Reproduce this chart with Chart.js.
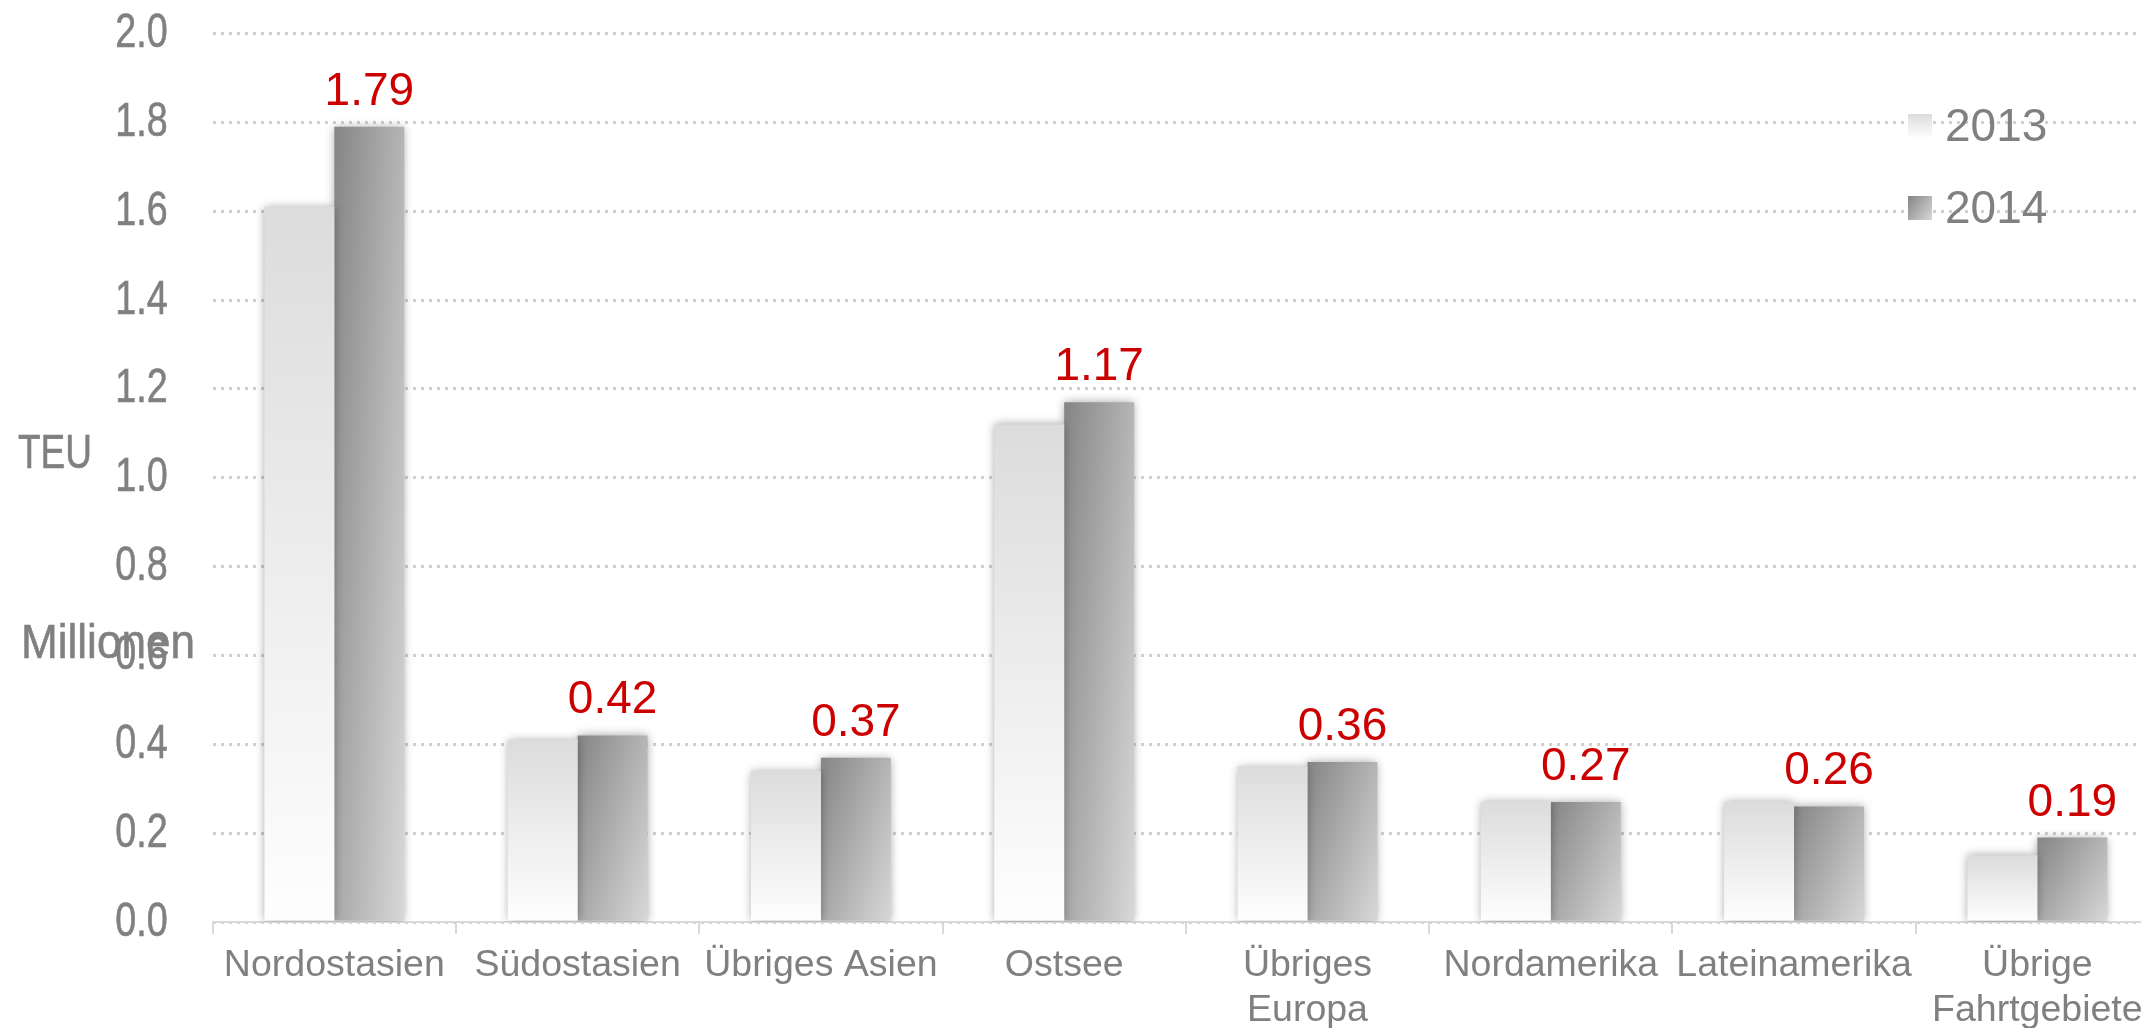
<!DOCTYPE html>
<html>
<head>
<meta charset="utf-8">
<script src="https://cdn.jsdelivr.net/npm/chart.js@4.4.1/dist/chart.umd.min.js"></script>
<style>
  html, body { margin: 0; padding: 0; background: #fff; overflow: hidden; }
  #wrap { width: 2170px; height: 1028px; position: relative; }
</style>
</head>
<body>
<div id="wrap"><canvas id="chart"></canvas></div>
<script>
const categories = [
  "Nordostasien",
  "Südostasien",
  "Übriges Asien",
  "Ostsee",
  ["Übriges", "Europa"],
  "Nordamerika",
  "Lateinamerika",
  ["Übrige", "Fahrtgebiete"],
];
const seriesNames = ["2013", "2014"];
const teu2013 = [1.61, 0.41, 0.34, 1.12, 0.35, 0.27, 0.27, 0.15];
const teu2014 = [1.79, 0.42, 0.37, 1.17, 0.36, 0.27, 0.26, 0.19];
const yTicks = [0, 0.2, 0.4, 0.6, 0.8, 1.0, 1.2, 1.4, 1.6, 1.8, 2.0];

const GREY = "#808080";
const ARIAL = "'Liberation Sans', Arial, sans-serif";
const GROUP = 0.575;
const NARROW_X = 0.77; // horizontal squeeze for the condensed-looking axis text
const STROKE = 0.6;

// bar box from the scales, only used to orient the gradients
function barBox(chart, dsIndex, i) {
  const xs = chart.scales.x, ys = chart.scales.y;
  const v = chart.data.datasets[dsIndex].data[i];
  const half = (xs.width / categories.length) * GROUP / 2;
  const cx = xs.getPixelForValue(i);
  const left = dsIndex === 0 ? cx - half : cx;
  return { left, right: left + half, top: ys.getPixelForValue(v), bottom: ys.getPixelForValue(0) };
}

function lightFill(ctx, b) {
  const g = ctx.createLinearGradient(0, b.top, 0, b.bottom);
  g.addColorStop(0, "#dcdcdc");
  g.addColorStop(1, "#fefefe");
  return g;
}

function darkFill(ctx, b) {
  const w = b.right - b.left, h = b.bottom - b.top;
  const a = 0.58 / w, c = 0.42 / h;
  const n = a * a + c * c;
  const g = ctx.createLinearGradient(b.left, b.top, b.left + a / n, b.top + c / n);
  g.addColorStop(0, "#858585");
  g.addColorStop(1, "#d8d8d8");
  return g;
}

// squeezed text, width fitted to what the original shows
function squeezedText(ctx, text, x, y, targetW) {
  const w = ctx.measureText(text).width;
  ctx.save();
  ctx.translate(x, y);
  ctx.scale(targetW / w, 1);
  ctx.lineWidth = STROKE;
  ctx.strokeStyle = GREY;
  ctx.strokeText(text, 0, 0);
  ctx.fillText(text, 0, 0);
  ctx.restore();
}

const narrowTicks = {
  id: "narrowTicks",
  afterLayout(chart) {
    const s = chart.scales.y;
    if (s._narrow) return;
    s._narrow = true;
    const orig = s.drawLabels;
    s.drawLabels = function (area) {
      const ctx = this.ctx;
      const ax = this.right - this.options.ticks.padding;
      ctx.save();
      ctx.translate(ax, 0);
      ctx.scale(NARROW_X, 1);
      ctx.translate(-ax, 0);
      orig.call(this, area);
      ctx.restore();
    };
  },
};

const barShadow = {
  id: "barShadow",
  beforeDatasetsDraw(chart) {
    const ctx = chart.ctx;
    ctx.save();
    ctx.shadowColor = "rgba(0,0,0,0.35)";
    ctx.shadowBlur = 9;
    ctx.shadowOffsetX = 0;
    ctx.shadowOffsetY = 0;
  },
  afterDatasetsDraw(chart) {
    chart.ctx.restore();
  },
};

const extras = {
  id: "extras",
  afterDraw(chart) {
    const ctx = chart.ctx;
    ctx.save();
    // value labels above the 2014 bars
    const meta = chart.getDatasetMeta(1);
    ctx.fillStyle = "#cc0000";
    ctx.font = "46px " + ARIAL;
    ctx.textAlign = "center";
    ctx.textBaseline = "alphabetic";
    meta.data.forEach((bar, i) => {
      ctx.fillText(teu2014[i].toFixed(2), bar.x, bar.y - 22);
    });
    // unit text
    ctx.fillStyle = GREY;
    ctx.font = "49px " + ARIAL;
    ctx.textAlign = "left";
    squeezedText(ctx, "TEU", 18, 468, 74);
    squeezedText(ctx, "Millionen", 21, 658, 174);
    // legend
    ctx.font = "46px " + ARIAL;
    ctx.textBaseline = "middle";
    seriesNames.forEach((name, k) => {
      const bx = 1908, by = 114 + k * 82, s = 24;
      const box = { left: bx, right: bx + s, top: by, bottom: by + s };
      ctx.fillStyle = k === 0 ? lightFill(ctx, box) : darkFill(ctx, box);
      ctx.fillRect(bx, by, s, s);
      ctx.fillStyle = GREY;
      ctx.fillText(name, 1945, by + s / 2 + 2);
    });
    ctx.restore();
  },
};

new Chart(document.getElementById("chart"), {
  type: "bar",
  data: {
    labels: categories,
    datasets: [
      {
        label: seriesNames[0],
        data: teu2013,
        backgroundColor: (c) => c.type === "data" && c.chart.chartArea
          ? lightFill(c.chart.ctx, barBox(c.chart, 0, c.dataIndex)) : "#e0e0e0",
        borderWidth: 0,
      },
      {
        label: seriesNames[1],
        data: teu2014,
        backgroundColor: (c) => c.type === "data" && c.chart.chartArea
          ? darkFill(c.chart.ctx, barBox(c.chart, 1, c.dataIndex)) : "#999999",
        borderWidth: 0,
      },
    ],
  },
  options: {
    responsive: true,
    maintainAspectRatio: false,
    animation: false,
    events: [],
    categoryPercentage: GROUP,
    barPercentage: 1.0,
    layout: { padding: { left: 0, right: 11, top: 33.5, bottom: 0 } },
    plugins: {
      legend: { display: false },
      tooltip: { enabled: false },
    },
    scales: {
      x: {
        afterFit: (s) => {
          s.height = 106;
          s.paddingLeft = 0;
          s.paddingRight = 0;
        },
        grid: {
          offset: true,
          drawOnChartArea: false,
          drawTicks: true,
          tickLength: 12,
          color: "#d9d9d9",
          lineWidth: 2,
        },
        border: { display: true, color: "#d9d9d9", width: 2 },
        ticks: {
          color: GREY,
          font: { family: ARIAL, size: 37.5, lineHeight: 1.2 },
          padding: 9,
          maxRotation: 0,
          autoSkip: false,
        },
      },
      y: {
        min: 0,
        max: 2.0,
        afterFit: (s) => {
          s.width = 212.7;
          s.paddingTop = 0;
          s.paddingBottom = 0;
        },
        afterBuildTicks: (s) => { s.ticks = yTicks.map((v) => ({ value: v })); },
        grid: {
          drawTicks: false,
          color: "#d0d0d0",
          lineWidth: 3,
        },
        border: { display: false, dash: [3, 5] },
        ticks: {
          color: GREY,
          textStrokeColor: GREY,
          textStrokeWidth: STROKE,
          font: { family: ARIAL, size: 49 },
          padding: 45,
          callback: (v) => Number(v).toFixed(1),
        },
      },
    },
  },
  plugins: [narrowTicks, barShadow, extras],
});
</script>
</body>
</html>
